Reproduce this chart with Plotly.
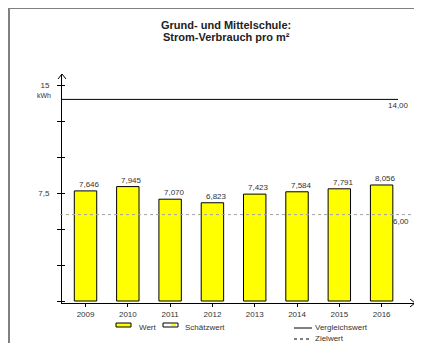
import plotly.graph_objects as go

# ---- data ----
years = ["2009", "2010", "2011", "2012", "2013", "2014", "2015", "2016"]
values = [7.646, 7.945, 7.070, 6.823, 7.423, 7.584, 7.791, 8.056]
ref_compare = 14.0   # Vergleichswert
ref_target = 6.0     # Zielwert
y_tickvals = [0, 2.5, 5, 7.5, 10, 12.5, 15]
y_ticktext = ["", "", "", "7,5", "", "", "15"]
title_lines = ["Grund- und Mittelschule:", "Strom-Verbrauch pro m²"]
legend_labels = ["Wert", "Schätzwert", "Vergleichswert", "Zielwert"]

FONT = "Liberation Sans, Arial, sans-serif"
OFF = 8                      # page body margin
W, H = 422 - OFF, 343 - OFF
PL, PR, PT, PB = 62, 415, 74, 303   # plot area in page pixels
L, R, T, B = PL - OFF, (W + OFF) - PR, PT - OFF, (H + OFF) - PB
PW, PH = PR - PL, PB - PT


def PX(px):
    return (px - PL) / PW


def PY(py):
    return (PB - py) / PH


def fmt(v, d):
    return f"{v:.{d}f}".replace(".", ",")


fig = go.Figure()
fig.add_trace(go.Bar(
    x=years, y=values, width=0.53,
    marker=dict(color="#FFFF00", line=dict(color="#000000", width=1)),
    hoverinfo="skip", showlegend=False,
))

shapes = []
annotations = []

# value labels
for i, v in enumerate(values):
    annotations.append(dict(x=i, y=v, xref="x", yref="y", text=fmt(v, 3),
                            showarrow=False, xshift=4, yanchor="bottom",
                            font=dict(family=FONT, size=8, color="#333333")))

# reference lines
shapes.append(dict(type="line", xref="paper", yref="y", x0=0, x1=PX(398),
                   y0=ref_compare, y1=ref_compare,
                   line=dict(color="#000000", width=1)))
shapes.append(dict(type="line", xref="paper", yref="y", x0=PX(60), x1=PX(411),
                   y0=ref_target, y1=ref_target,
                   line=dict(color="#A0A0A0", width=1, dash="dot")))
annotations.append(dict(x=PX(411), y=ref_compare, xref="paper", yref="y",
                        text=fmt(ref_compare, 2), showarrow=False,
                        xanchor="right", yanchor="top",
                        font=dict(family=FONT, size=8, color="#333333")))
annotations.append(dict(x=PX(411), y=ref_target, xref="paper", yref="y",
                        text=fmt(ref_target, 2), showarrow=False,
                        xanchor="right", yanchor="top",
                        font=dict(family=FONT, size=8, color="#333333")))

# title
annotations.append(dict(x=PX(226), y=PY(25), xref="paper", yref="paper",
                        text="<b>" + title_lines[0] + "</b>", showarrow=False,
                        xanchor="center", yanchor="middle",
                        font=dict(family=FONT, size=11, color="#222222")))
annotations.append(dict(x=PX(226), y=PY(37), xref="paper", yref="paper",
                        text="<b>" + title_lines[1] + "</b>", showarrow=False,
                        xanchor="center", yanchor="middle",
                        font=dict(family=FONT, size=11, color="#222222")))

# unit
annotations.append(dict(x=PX(53), y=PY(95), xref="paper", yref="paper",
                        text="kWh", showarrow=False, xanchor="right",
                        yanchor="middle",
                        font=dict(family=FONT, size=7, color="#333333")))

# frame
shapes.append(dict(type="line", xref="paper", yref="paper", x0=PX(9), x1=PX(424),
                   y0=PY(8), y1=PY(8), line=dict(color="#808080", width=2)))
shapes.append(dict(type="line", xref="paper", yref="paper", x0=PX(9), x1=PX(9),
                   y0=PY(8), y1=PY(345), line=dict(color="#808080", width=2)))

# axis arrows
shapes.append(dict(type="path", xref="paper", yref="paper",
                   path=f"M {PX(58)},{PY(79)} L {PX(62)},{PY(74)} L {PX(66)},{PY(79)}",
                   line=dict(color="#000000", width=1)))
shapes.append(dict(type="path", xref="paper", yref="paper",
                   path=f"M {PX(410)},{PY(299)} L {PX(415)},{PY(303)} L {PX(410)},{PY(307)}",
                   line=dict(color="#000000", width=1)))

# legend
r1, r2 = 327, 338
lf = dict(family=FONT, size=8, color="#333333")
shapes.append(dict(type="rect", xref="paper", yref="paper",
                   x0=PX(116), x1=PX(131), y0=PY(r1), y1=PY(r1 - 4),
                   fillcolor="#FFFF00", line=dict(color="#000000", width=1)))
annotations.append(dict(x=PX(137), y=PY(r1), xref="paper", yref="paper",
                        text=legend_labels[0], showarrow=False,
                        xanchor="left", yanchor="middle", font=lf))
shapes.append(dict(type="rect", xref="paper", yref="paper",
                   x0=PX(163), x1=PX(178), y0=PY(r1), y1=PY(r1 - 4),
                   fillcolor="#FFFFFF", line=dict(color="#000000", width=1)))
shapes.append(dict(type="rect", xref="paper", yref="paper",
                   x0=PX(171), x1=PX(176), y0=PY(r1 - 1), y1=PY(r1 - 3),
                   fillcolor="#FFFF00", line=dict(width=0)))
annotations.append(dict(x=PX(183), y=PY(r1), xref="paper", yref="paper",
                        text=legend_labels[1], showarrow=False,
                        xanchor="left", yanchor="middle", font=lf))
shapes.append(dict(type="line", xref="paper", yref="paper",
                   x0=PX(294), x1=PX(312), y0=PY(r1 + 1), y1=PY(r1 + 1),
                   line=dict(color="#000000", width=1)))
annotations.append(dict(x=PX(313), y=PY(r1), xref="paper", yref="paper",
                        text=legend_labels[2], showarrow=False,
                        xanchor="left", yanchor="middle", font=lf))
shapes.append(dict(type="line", xref="paper", yref="paper",
                   x0=PX(294), x1=PX(310), y0=PY(r2 + 1), y1=PY(r2 + 1),
                   line=dict(color="#000000", width=1, dash="dot")))
annotations.append(dict(x=PX(313), y=PY(r2), xref="paper", yref="paper",
                        text=legend_labels[3], showarrow=False,
                        xanchor="left", yanchor="middle", font=lf))

fig.update_layout(
    width=W, height=H,
    margin=dict(l=L, r=R, t=T, b=B, pad=0),
    paper_bgcolor="#FFFFFF", plot_bgcolor="#FFFFFF",
    showlegend=False,
    font=dict(family=FONT, size=8, color="#333333"),
    xaxis=dict(type="category", range=[-0.556, 7.789], showgrid=False,
               zeroline=False, showline=True, linecolor="#000000", linewidth=1,
               ticks="outside", ticklen=3, tickcolor="#000000",
               tickfont=dict(family=FONT, size=8, color="#333333")),
    yaxis=dict(range=[-0.139, 15.764], showgrid=False, zeroline=False,
               showline=True, linecolor="#000000", linewidth=1,
               tickvals=y_tickvals, ticktext=y_ticktext,
               ticks="outside", ticklen=4, tickcolor="#000000",
               ticklabelstandoff=6,
               tickfont=dict(family=FONT, size=8, color="#333333")),
    yaxis2=dict(overlaying="y", matches="y", side="left", showgrid=False,
                zeroline=False, showline=False, tickvals=y_tickvals,
                showticklabels=False, ticks="inside", ticklen=3,
                tickcolor="#000000"),
    shapes=shapes,
    annotations=annotations,
)
fig.add_trace(go.Scatter(x=[years[0]], y=[0], yaxis="y2", mode="markers",
                         marker=dict(opacity=0), hoverinfo="skip",
                         showlegend=False))

fig.write_html("out.html")
